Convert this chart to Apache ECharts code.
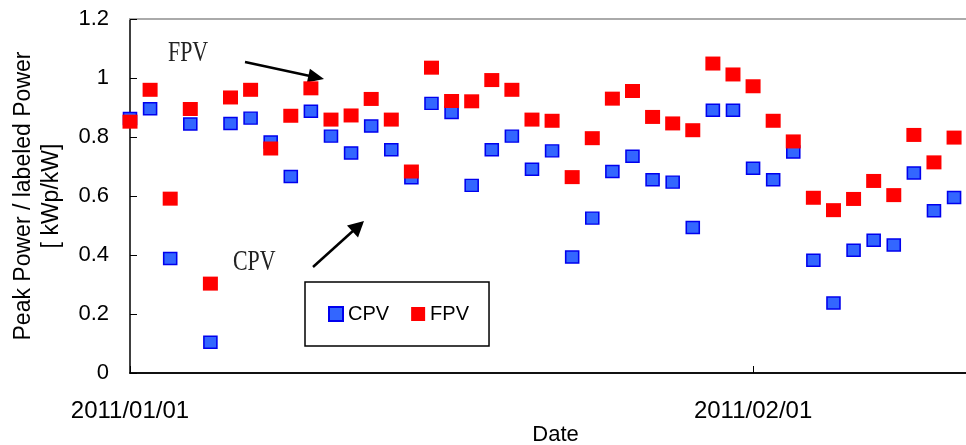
<!DOCTYPE html>
<html>
<head>
<meta charset="utf-8">
<script src="https://cdn.jsdelivr.net/npm/echarts@6/dist/echarts.min.js"></script>
<style>
html,body{margin:0;padding:0;background:#fff;}
#mychart{width:966px;height:445px;}
</style>
</head>
<body>
<div id="mychart"></div>
<script>
var dates = ['2011/01/01','2011/01/02','2011/01/03','2011/01/04','2011/01/05','2011/01/06','2011/01/07',
    '2011/01/08','2011/01/09','2011/01/10','2011/01/11','2011/01/12','2011/01/13','2011/01/14',
    '2011/01/15','2011/01/16','2011/01/17','2011/01/18','2011/01/19','2011/01/20','2011/01/21',
    '2011/01/22','2011/01/23','2011/01/24','2011/01/25','2011/01/26','2011/01/27','2011/01/28',
    '2011/01/29','2011/01/30','2011/01/31','2011/02/01','2011/02/02','2011/02/03','2011/02/04',
    '2011/02/05','2011/02/06','2011/02/07','2011/02/08','2011/02/09','2011/02/10','2011/02/11'];
var cpv = [0.863, 0.896, 0.388, 0.844, 0.104, 0.846, 0.864, 0.783, 0.666, 0.887, 0.803, 0.746, 0.837, 0.757,
    0.662, 0.914, 0.883, 0.636, 0.757, 0.803, 0.691, 0.753, 0.393, 0.525, 0.683, 0.735, 0.655, 0.647,
    0.493, 0.891, 0.891, 0.694, 0.655, 0.749, 0.382, 0.237, 0.416, 0.450, 0.434, 0.678, 0.550, 0.595];
var fpv = [0.852, 0.960, 0.591, 0.895, 0.303, 0.934, 0.960, 0.761, 0.872, 0.965, 0.859, 0.873, 0.929, 0.859,
    0.683, 1.035, 0.922, 0.921, 0.993, 0.960, 0.859, 0.855, 0.664, 0.796, 0.930, 0.956, 0.868, 0.846,
    0.823, 1.049, 1.012, 0.972, 0.855, 0.785, 0.594, 0.552, 0.590, 0.651, 0.603, 0.807, 0.714, 0.798];
var yTicks = [0, 0.2, 0.4, 0.6, 0.8, 1, 1.2];

// day offset from the first date
function parseDay(s){
    var p = s.split('/');
    return new Date(+p[0], +p[1] - 1, +p[2]);
}
var day0 = parseDay(dates[0]);
function dayIndex(s){
    return Math.round((parseDay(s) - day0) / 86400000);
}
function fmtDay(v){
    var d = new Date(day0.getFullYear(), day0.getMonth(), day0.getDate() + v);
    var m = d.getMonth() + 1, dd = d.getDate();
    return d.getFullYear() + '/' + (m < 10 ? '0' : '') + m + '/' + (dd < 10 ? '0' : '') + dd;
}
function pairs(vals){
    return dates.map(function(d, i){ return [dayIndex(d), vals[i]]; });
}

var font = 'Liberation Sans';
var myChart = echarts.init(document.getElementById('mychart'));
var option = {
    animation: false,
    backgroundColor: '#fff',
    textStyle: {fontFamily: font},
    grid: {left: 130, right: -15, top: 19, bottom: 72, outerBoundsMode: 'none', containLabel: false},
    legend: {
        left: 305, top: 282,
        padding: [22, 20, 22, 23],
        borderColor: '#000', borderWidth: 1.5,
        itemWidth: 14, itemHeight: 14, itemGap: 22,
        textStyle: {fontFamily: font, fontSize: 20, color: '#000'},
        data: ['CPV', 'FPV']
    },
    xAxis: [{
        type: 'value',
        min: 0, max: 42.34, interval: 31,
        name: 'Date', nameLocation: 'middle', nameGap: 51, nameMoveOverlap: false,
        nameTextStyle: {fontFamily: font, fontSize: 22, color: '#000'},
        axisLine: {lineStyle: {color: '#111', width: 2}},
        axisTick: {inside: true, length: 7, lineStyle: {color: '#000', width: 1}},
        axisLabel: {margin: 26, fontSize: 24, color: '#000', fontFamily: font,
            showMaxLabel: false,
            formatter: function(v){ return fmtDay(v); }},
        splitLine: {show: false}
    }, {
        type: 'value', position: 'top',
        min: 0, max: 42.34,
        axisLine: {show: true, lineStyle: {color: '#aaa', width: 2}},
        axisTick: {show: false}, axisLabel: {show: false}, splitLine: {show: false}
    }],
    yAxis: {
        type: 'value',
        min: yTicks[0], max: yTicks[yTicks.length - 1], interval: 0.2,
        name: 'Peak Power / labeled Power\n[ kWp/kW]',
        nameLocation: 'middle', nameGap: 64, nameRotate: 90, nameMoveOverlap: false,
        nameTextStyle: {fontFamily: font, fontSize: 23, lineHeight: 28, color: '#000'},
        axisLine: {show: true, lineStyle: {color: '#000', width: 1.5}},
        axisTick: {show: true, inside: true, length: 7, lineStyle: {color: '#000', width: 1}},
        axisLabel: {margin: 21, fontSize: 22, color: '#000', fontFamily: font},
        splitLine: {show: false}
    },
    series: [{
        name: 'CPV',
        type: 'scatter',
        symbol: 'rect',
        symbolSize: [13, 12],
        clip: false,
        itemStyle: {color: '#3366ff', borderColor: '#0000ee', borderWidth: 1.5, opacity: 1},
        data: pairs(cpv),
        z: 3
    }, {
        name: 'FPV',
        type: 'scatter',
        symbol: 'rect',
        symbolSize: [15, 14],
        clip: false,
        itemStyle: {color: '#ff0000', opacity: 1},
        data: pairs(fpv),
        z: 4
    }],
    graphic: [
        {type: 'text', x: 168, y: 53, scaleX: 0.73,
            style: {text: 'FPV', x: 0, y: 0, fill: '#222', font: '30px "Liberation Serif"', align: 'left', verticalAlign: 'middle'}},
        {type: 'text', x: 233, y: 262, scaleX: 0.73,
            style: {text: 'CPV', x: 0, y: 0, fill: '#222', font: '30px "Liberation Serif"', align: 'left', verticalAlign: 'middle'}},
        {type: 'line', shape: {x1: 245, y1: 62, x2: 310, y2: 76}, style: {stroke: '#000', lineWidth: 2.5}},
        {type: 'polygon', shape: {points: [[324, 79], [309.9, 68.8], [306.9, 82.4]]}, style: {fill: '#000'}},
        {type: 'line', shape: {x1: 313, y1: 267, x2: 354, y2: 230}, style: {stroke: '#000', lineWidth: 2.5}},
        {type: 'polygon', shape: {points: [[364, 221], [358, 237.5], [347, 225.5]]}, style: {fill: '#000'}}
    ]
};
myChart.setOption(option);
</script>
</body>
</html>
